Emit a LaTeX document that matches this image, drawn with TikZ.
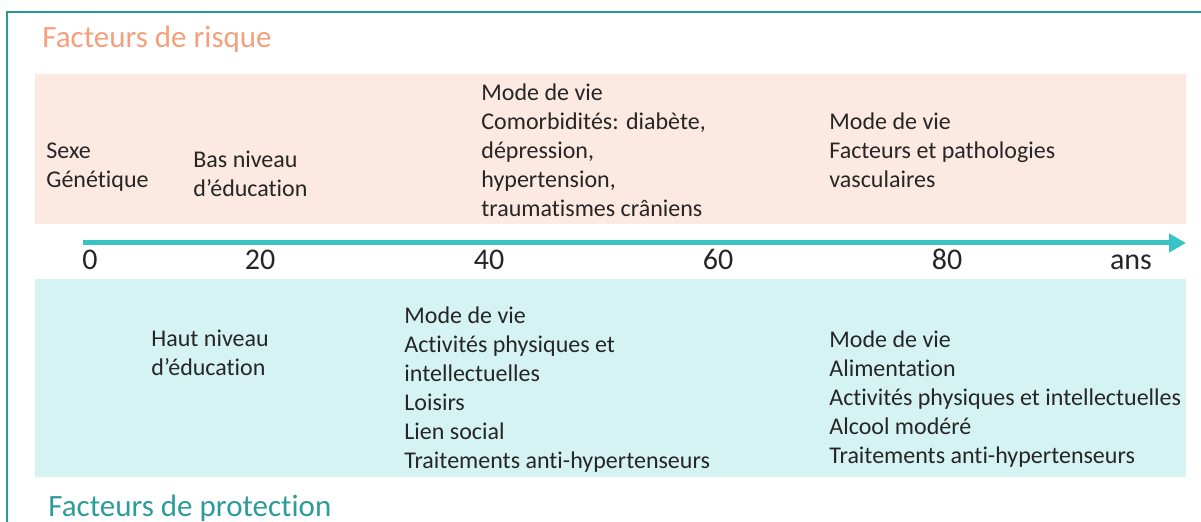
\documentclass[tikz,border=0pt]{standalone}
\usepackage{fontspec}
\setmainfont{Carlito}[Ligatures=NoCommon]
\usetikzlibrary{arrows.meta}
\definecolor{cadre}{RGB}{46,150,150}
\definecolor{rose}{RGB}{252,233,226}
\definecolor{turquoise}{RGB}{214,243,243}
\definecolor{fleche}{RGB}{56,196,198}
\definecolor{risque}{RGB}{245,160,125}
\definecolor{protect}{RGB}{46,155,155}
\definecolor{texte}{RGB}{38,38,38}
\tikzset{
  txt/.style={anchor=base west,inner sep=0pt,align=left,text=texte,
    font=\fontsize{12}{14.5}\selectfont},
  titre/.style={anchor=base west,inner sep=0pt,font=\fontsize{15.5}{18}\selectfont},
  age/.style={anchor=base,inner sep=0pt,text=texte,font=\fontsize{15}{18}\selectfont},
}

\begin{document}
\begin{tikzpicture}[x=0.5pt,y=-0.5pt]
        \useasboundingbox (0,0) rectangle (1201,522);
        \begin{scope}
          \draw[cadre,line width=1pt] (1201,12) -- (7,12) -- (7,530);
          \fill[rose] (35,74) rectangle (1186,224);
          \fill[turquoise] (35,279) rectangle (1186,477);
          \node[titre,text=risque] (R) at (42,48) {Facteurs de risque};
          \node[titre,text=protect] (P) at (48,517) {Facteurs de protection};

          % axe des ages
          \coordinate (A0) at (83,243);
          \coordinate (A1) at (1186,243);
          \draw[fleche,line width=2.5pt,-{Triangle[length=8.5pt,width=9pt]}] (A0) -- (A1);
          \foreach \x/\t in {90/0,260/20,489/40,718/60,947/80,1131/ans} {
            \node[age] (T\t) at (\x,270) {\t};
          }

          % risque (base = derniere ligne)
          \node[txt] (R0) at (46,188) {Sexe\\Génétique};
          \node[txt] (R20) at (193,197) {Bas niveau\\d’éducation};
          \node[txt] (R40) at (481,217) {Mode de vie\\Comorbidités: diabète,\\dépression,\\hypertension,\\traumatismes crâniens};
          \node[txt] (R80) at (829,188) {Mode de vie\\Facteurs et pathologies\\vasculaires};

          % protection
          \node[txt] (P20) at (151,376) {Haut niveau\\d’éducation};
          \node[txt] (P40) at (404,469) {Mode de vie\\Activités physiques et\\intellectuelles\\Loisirs\\Lien social\\Traitements anti-hypertenseurs};
          \node[txt] (P80) at (829,464) {Mode de vie\\Alimentation\\Activités physiques et intellectuelles\\Alcool modéré\\Traitements anti-hypertenseurs};
        \end{scope}
      \end{tikzpicture}
\end{document}
